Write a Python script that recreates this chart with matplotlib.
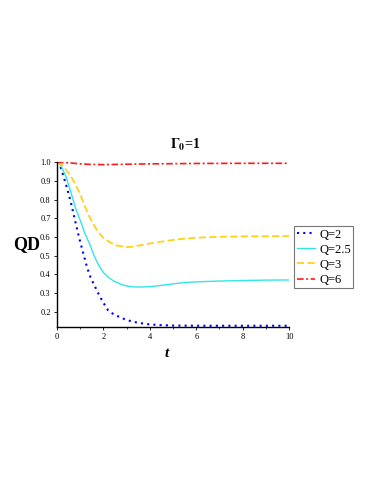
import matplotlib
matplotlib.use("Agg")
import matplotlib.pyplot as plt
from matplotlib.ticker import MultipleLocator

plt.rcParams.update({
    "font.family": ["Liberation Serif", "DejaVu Serif"],
    "mathtext.fontset": "stix",
})

# Q = 2 (dotted blue)
t_q2 = [0, 0.05, 0.15, 0.3, 0.45, 0.6, 0.75, 0.9, 1.0, 1.15, 1.3, 1.45, 1.6,
        1.75, 1.9, 2.05, 2.2, 2.4, 2.6, 2.8, 3.0, 3.3, 3.6, 4.0, 4.5, 5.0,
        6.0, 8.0, 10.0]
qd_q2 = [1.0, 0.997, 0.978, 0.918, 0.855, 0.785, 0.705, 0.625, 0.575, 0.505,
         0.437, 0.382, 0.345, 0.305, 0.27, 0.238, 0.208, 0.19, 0.177, 0.166,
         0.156, 0.146, 0.139, 0.132, 0.128, 0.126, 0.125, 0.125, 0.125]

# Q = 2.5 (cyan solid)
t_q25 = [0, 0.1, 0.2, 0.4, 0.6, 0.8, 1.0, 1.2, 1.4, 1.6, 1.8, 2.0, 2.2, 2.45,
         2.75, 3.0, 3.3, 3.6, 4.0, 4.5, 5.0, 5.5, 6.0, 7.0, 8.0, 9.0, 10.0]
qd_q25 = [1.0, 0.995, 0.975, 0.92, 0.84, 0.755, 0.69, 0.62, 0.565, 0.5, 0.448,
          0.41, 0.385, 0.364, 0.347, 0.338, 0.333, 0.332, 0.334, 0.341, 0.349,
          0.356, 0.36, 0.364, 0.367, 0.369, 0.37]

# Q = 3 (yellow dashed)
t_q3 = [0, 0.2, 0.4, 0.6, 0.8, 1.0, 1.2, 1.45, 1.75, 2.0, 2.3, 2.6, 2.9, 3.1,
        3.4, 3.7, 4.0, 4.5, 5.0, 5.5, 6.0, 7.0, 8.0, 9.0, 10.0]
qd_q3 = [1.0, 0.987, 0.958, 0.925, 0.88, 0.83, 0.765, 0.695, 0.63, 0.595, 0.57,
         0.554, 0.547, 0.546, 0.551, 0.558, 0.565, 0.575, 0.584, 0.591, 0.596,
         0.601, 0.603, 0.604, 0.605]

# Q = 6 (red dash-dot)
t_q6 = [0, 0.5, 1.0, 1.5, 2.0, 2.5, 3.0, 4.0, 5.0, 6.0, 8.0, 10.0]
qd_q6 = [1.0, 0.997, 0.991, 0.988, 0.987, 0.988, 0.989, 0.991, 0.992, 0.993,
         0.994, 0.994]

fig = plt.figure(figsize=(3.82, 4.94), dpi=100)
ax = fig.add_axes([0.149, 0.3387, 0.608, 0.333])

ax.plot(t_q2, qd_q2, color="#0000ff", lw=1.5, linestyle=(0, (1, 2)), label="Q=2")
ax.plot(t_q25, qd_q25, color="#33e6e6", lw=1.0, label="Q=2.5")
ax.plot(t_q3, qd_q3, color="#ffd21a", lw=1.3, linestyle=(0, (4, 1.8)), label="Q=3")
ax.plot(t_q6, qd_q6, color="#ff1a1a", lw=1.2,
        linestyle=(0, (4, 1.5, 1.2, 1.5)), label="Q=6")

ax.set_xlim(0, 10)
ax.set_ylim(0.12, 1.0)
ax.xaxis.set_major_locator(MultipleLocator(2))
ax.xaxis.set_minor_locator(MultipleLocator(1))
ax.yaxis.set_major_locator(MultipleLocator(0.1))
ax.yaxis.set_major_formatter(plt.FormatStrFormatter("%.1f"))
ax.tick_params(labelsize=6, length=2.5, width=0.6, pad=2)
ax.tick_params(which="minor", length=1.5, width=0.5)
for side in ("top", "right"):
    ax.spines[side].set_visible(False)
for side in ("left", "bottom"):
    ax.spines[side].set_linewidth(1.0)

fig.text(0.0707, 0.504, "QD", fontsize=13, fontweight="bold",
         ha="center", va="center")
fig.text(0.437, 0.285, "t", fontsize=11, fontweight="bold", style="italic",
         ha="center", va="center")
fig.text(0.485, 0.706, r"$\mathbf{\Gamma_0}$=1", fontsize=10, fontweight="bold",
         ha="center", va="center")

leg = ax.legend(loc="upper left", bbox_to_anchor=(0.770, 0.5425),
                bbox_transform=fig.transFigure, fontsize=9, frameon=True,
                fancybox=False, handlelength=1.5, handletextpad=0.3,
                borderpad=0.2, labelspacing=0.25, borderaxespad=0)
leg.get_frame().set_edgecolor("#555555")
leg.get_frame().set_linewidth(0.8)

fig.savefig("out.png", dpi=100)
